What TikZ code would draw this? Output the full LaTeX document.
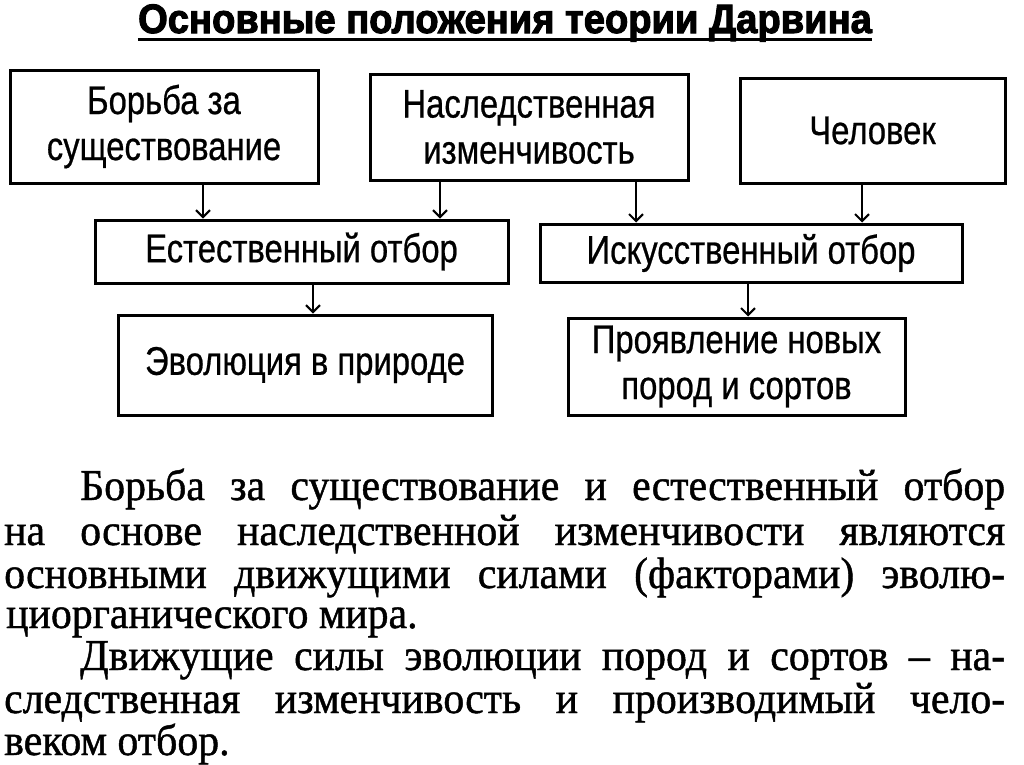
\documentclass[tikz,border=0pt]{standalone}
\usepackage{fontspec}
\setmainfont{Liberation Serif}
\newfontfamily\boxfont[FakeStretch=0.82,FakeBold=0.6]{Liberation Sans}
\newfontfamily\titlefont[FakeStretch=0.93,FakeBold=2.5]{Liberation Sans}
\newfontfamily\parfont[FakeStretch=0.95,FakeBold=1.0]{Liberation Serif}
\usetikzlibrary{arrows.meta}
\tikzset{
  blk/.style={draw=black, line width=3pt, fill=white, inner sep=0pt, align=center,
    font=\boxfont\fontsize{40}{46}\selectfont},
  arr/.style={draw=black, line width=2pt, -{Straight Barb[length=7pt,width=14pt,line width=2pt]}},
  parline/.style={anchor=base west, inner sep=0pt, font=\parfont\fontsize{44}{43}\selectfont},
}
\begin{document}
\begin{tikzpicture}[x=1pt,y=-1pt]
\useasboundingbox[fill=white] (0,0) rectangle (1024,764);
% title
\node[anchor=base, inner sep=0pt, font=\titlefont\bfseries\fontsize{41}{44}\selectfont] (title) at (505,33)
  {Основные положения теории Дарвина};
\draw[line width=3pt] ([yshift=-6pt]title.base west) -- ([yshift=-6pt]title.base east);
% top row
\node[blk, minimum width=308pt, minimum height=113pt] (b1) at (164,126.5) {Борьба за\\существование};
\node[blk, minimum width=318pt, minimum height=106pt] (b2) at (529,127) {Наследственная\\изменчивость};
\node[blk, minimum width=265pt, minimum height=105pt] (b3) at (872.5,130.5) {Человек};
% middle row
\node[blk, minimum width=413pt, minimum height=63pt] (b4) at (301.5,251.5) {Естественный отбор};
\node[blk, minimum width=422pt, minimum height=58pt] (b5) at (751,253) {Искусственный отбор};
% bottom row
\node[blk, minimum width=374pt, minimum height=100pt] (b6) at (305,365) {Эволюция в природе};
\node[blk, minimum width=337pt, minimum height=97pt] (b7) at (736.5,366.5) {Проявление новых\\пород и сортов};
% arrows
\draw[arr] (b1.south -| 203,0) -- (b4.north -| 203,0);
\draw[arr] (b2.south -| 440,0) -- (b4.north -| 440,0);
\draw[arr] (b2.south -| 636,0) -- (b5.north -| 636,0);
\draw[arr] (b3.south -| 862,0) -- (b5.north -| 862,0);
\draw[arr] (b4.south -| 313,0) -- (b6.north -| 313,0);
\draw[arr] (b5.south -| 748,0) -- (b7.north -| 748,0);
% paragraph
\node[parline] (p1) at (80,500) {\makebox[925pt][s]{Борьба за существование и естественный отбор}};
\node[parline] (p2) at (4,545) {\makebox[1001pt][s]{на основе наследственной изменчивости являются}};
\node[parline] (p3) at (4,588) {\makebox[1001pt][s]{основными движущими силами (факторами) эволю-}};
\node[parline] (p4) at (6,628) {циорганического мира.};
\node[parline] (p5) at (80,670) {\makebox[925pt][s]{Движущие силы эволюции пород и сортов – на-}};
\node[parline] (p6) at (4,713) {\makebox[1001pt][s]{следственная изменчивость и производимый чело-}};
\node[parline] (p7) at (4,755) {веком отбор.};
\end{tikzpicture}
\end{document}
